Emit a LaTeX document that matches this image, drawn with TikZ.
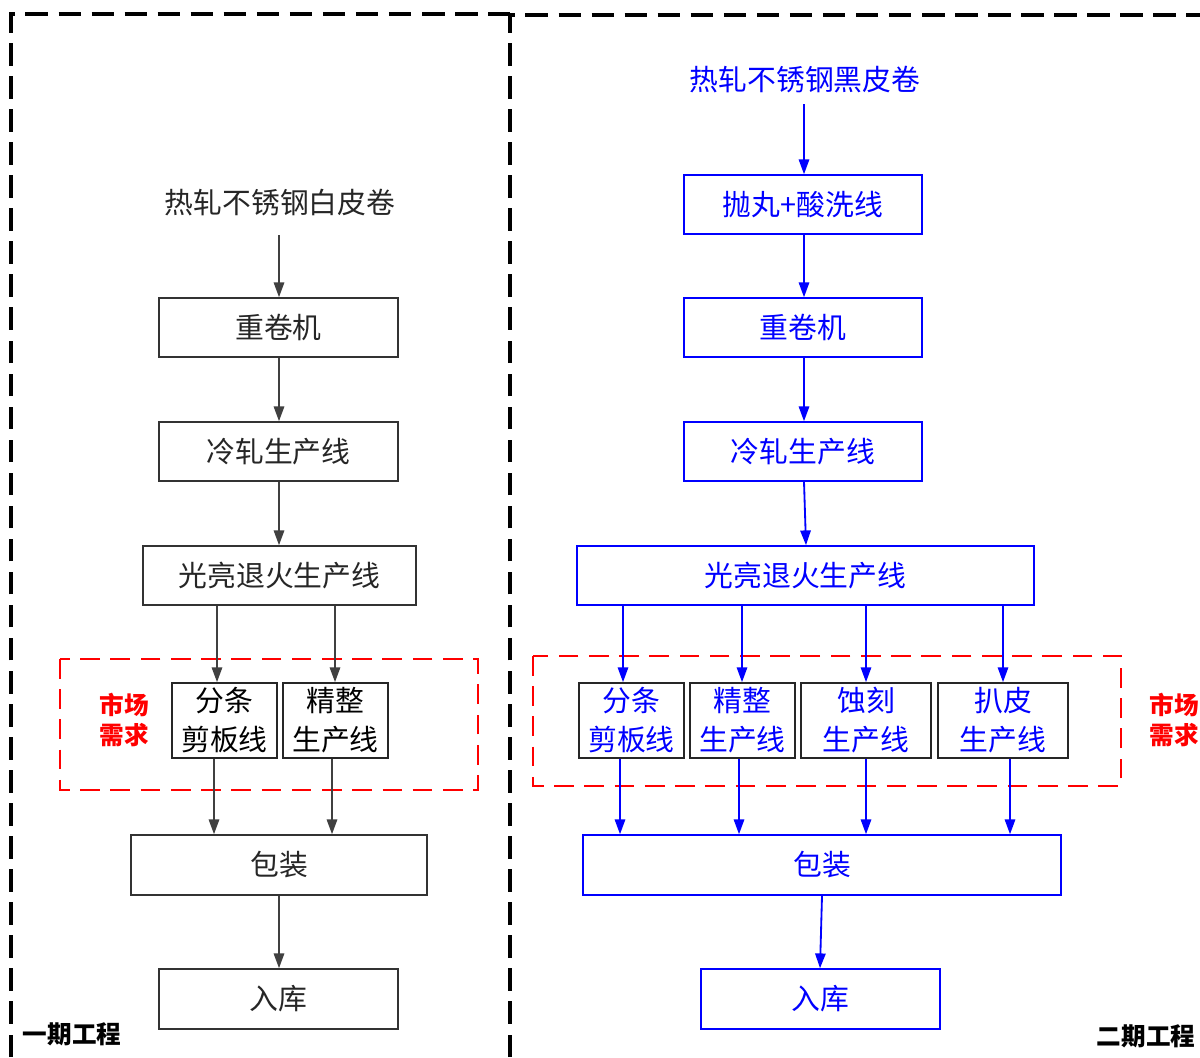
\documentclass[tikz,border=0pt]{standalone}
\usepackage{fontspec}
\newfontfamily\cjk{Noto Sans CJK SC}
\usetikzlibrary{arrows.meta,calc}
\definecolor{dk}{HTML}{333333}
\definecolor{ar}{HTML}{404040}
\definecolor{bl}{RGB}{0,0,255}
\definecolor{rd}{RGB}{255,0,0}
\begin{document}
\begin{tikzpicture}[x=0.025cm,y=-0.025cm,
 txt/.style={font=\cjk\fontsize{20.5}{27.7}\selectfont, align=center, inner sep=0pt},
 box/.style={txt, draw, line width=1.1pt, minimum height=1.475cm},
 kbox/.style={box, draw=dk, text=black!85},
 bbox/.style={box, draw=bl, text=bl},
 sbox/.style={txt, draw=black!85, line width=1.2pt, minimum height=1.875cm},
 karr/.style={draw=ar, line width=1.3pt, -{Triangle[length=0.37cm,width=0.26cm]}},
 barr/.style={draw=bl, line width=1.3pt, -{Triangle[length=0.37cm,width=0.26cm]}},
 frame/.style={line width=2.2pt, dash pattern=on 16pt off 7.5pt},
 redbox/.style={draw=rd, line width=1.9pt, dash pattern=on 14pt off 7.5pt},
 mk/.style={font=\cjk\bfseries\fontsize{17.5}{21.3}\selectfont, text=rd, align=center, inner sep=0pt},
 ph/.style={font=\cjk\bfseries\fontsize{17.5}{20}\selectfont, inner sep=0pt}
]
\useasboundingbox[fill=white] (0,0) rectangle (1200,1057);

% frames
\draw[frame] (11,1057) -- (11,14) -- (510,14);
\draw[frame] (510,1057) -- (510,15) -- (1200,15);

% ---------- left ----------
\node[txt, text=black!85, minimum height=1.6cm] (L0) at (280,203) {热轧不锈钢白皮卷};
\node[kbox, minimum width=5.975cm] (L1) at (278.5,327.5) {重卷机};
\node[kbox, minimum width=5.975cm] (L2) at (278.5,451.5) {冷轧生产线};
\node[kbox, minimum width=6.825cm] (L3) at (279.5,575.5) {光亮退火生产线};
\draw[redbox] (60,659) rectangle (478,790);
\node[mk] (LM) at (124,720) {市场\\需求};
\node[sbox, minimum width=2.625cm] (L4a) at (224.5,720.5) {分条\\剪板线};
\node[sbox, minimum width=2.625cm] (L4b) at (335.5,720.5) {精整\\生产线};
\node[kbox, minimum width=7.4cm, minimum height=1.5cm] (L5) at (279,865) {包装};
\node[kbox, minimum width=5.975cm, minimum height=1.5cm] (L6) at (278.5,999) {入库};
\node[ph] (LP) at (72,1034) {一期工程};

\coordinate (xa) at (217,0);
\coordinate (xb) at (335,0);
\coordinate (xc) at (214,0);
\coordinate (xd) at (332,0);
\coordinate (xe) at (279,0);
\draw[karr] (L0.south -| xe) -- (L1.north -| xe);
\draw[karr] (L1.south -| xe) -- (L2.north -| xe);
\draw[karr] (L2.south -| xe) -- (L3.north -| xe);
\draw[karr] (L3.south -| xa) -- (L4a.north -| xa);
\draw[karr] (L3.south -| xb) -- (L4b.north -| xb);
\draw[karr] (L4a.south -| xc) -- (L5.north -| xc);
\draw[karr] (L4b.south -| xd) -- (L5.north -| xd);
\draw[karr] (L5.south -| xe) -- (L6.north -| xe);

% ---------- right ----------
\node[txt, text=bl, minimum height=1.2cm] (R0) at (805,80) {热轧不锈钢黑皮卷};
\node[bbox, minimum width=5.95cm] (R1) at (803,204.5) {抛丸+酸洗线};
\node[bbox, minimum width=5.95cm] (R2) at (803,327.5) {重卷机};
\node[bbox, minimum width=5.95cm] (R3) at (803,451.5) {冷轧生产线};
\node[bbox, minimum width=11.425cm] (R4) at (805.5,575.5) {光亮退火生产线};
\draw[redbox] (533,656) rectangle (1121,786);
\node[mk] (RM) at (1174,720) {市场\\需求};
\node[sbox, text=bl, minimum width=2.625cm] (R5a) at (631.5,720.5) {分条\\剪板线};
\node[sbox, text=bl, minimum width=2.625cm] (R5b) at (742.5,720.5) {精整\\生产线};
\node[sbox, text=bl, minimum width=3.25cm] (R5c) at (866,720.5) {蚀刻\\生产线};
\node[sbox, text=bl, minimum width=3.25cm] (R5d) at (1003,720.5) {扒皮\\生产线};
\node[bbox, minimum width=11.95cm, minimum height=1.5cm] (R6) at (822,865) {包装};
\node[bbox, minimum width=5.975cm, minimum height=1.5cm] (R7) at (820.5,999) {入库};
\node[ph] (RP) at (1146,1036) {二期工程};

\coordinate (ya) at (804,0);
\coordinate (yb) at (806,0);
\coordinate (y1) at (623,0);
\coordinate (y2) at (742,0);
\coordinate (y3) at (866,0);
\coordinate (y4) at (1003,0);
\coordinate (z1) at (620,0);
\coordinate (z2) at (739,0);
\coordinate (z3) at (866,0);
\coordinate (z4) at (1010,0);
\coordinate (w1) at (822,0);
\coordinate (w2) at (820,0);
\draw[barr] (R0.south -| ya) -- (R1.north -| ya);
\draw[barr] (R1.south -| ya) -- (R2.north -| ya);
\draw[barr] (R2.south -| ya) -- (R3.north -| ya);
\draw[barr] (R3.south -| ya) -- (R4.north -| yb);
\draw[barr] (R4.south -| y1) -- (R5a.north -| y1);
\draw[barr] (R4.south -| y2) -- (R5b.north -| y2);
\draw[barr] (R4.south -| y3) -- (R5c.north -| y3);
\draw[barr] (R4.south -| y4) -- (R5d.north -| y4);
\draw[barr] (R5a.south -| z1) -- (R6.north -| z1);
\draw[barr] (R5b.south -| z2) -- (R6.north -| z2);
\draw[barr] (R5c.south -| z3) -- (R6.north -| z3);
\draw[barr] (R5d.south -| z4) -- (R6.north -| z4);
\draw[barr] (R6.south -| w1) -- (R7.north -| w2);
\end{tikzpicture}
\end{document}
